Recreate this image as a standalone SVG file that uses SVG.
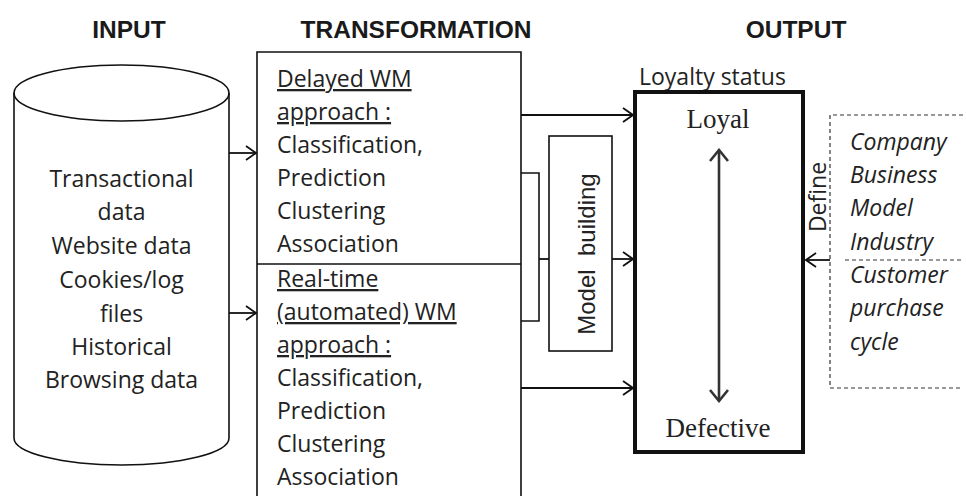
<svg xmlns="http://www.w3.org/2000/svg" width="966" height="496" viewBox="0 0 966 496">
  <style>
    .hdr { font-family: "Liberation Sans", Arial, sans-serif; font-weight: bold; font-size: 24.5px; fill: #1a1a1a; text-anchor: middle; }
    .body { font-family: "Open Sans", "Liberation Sans", sans-serif; font-size: 23px; fill: #222; }
    .mid { text-anchor: middle; }
    .ul { text-decoration: underline; }
    .ital { font-style: italic; }
    .serif { font-family: "Liberation Serif", "Times New Roman", serif; font-size: 27px; fill: #222; text-anchor: middle; }
    .mb { font-family: "Liberation Sans", Arial, sans-serif; font-size: 24px; fill: #222; text-anchor: middle; }
    .line { fill: none; stroke: #111; stroke-width: 1.6; }
    .conn { fill: none; stroke: #111; stroke-width: 1.8; }
    .dash { fill: none; stroke: #333; stroke-width: 1.2; stroke-dasharray: 4 3; }
  </style>
  <defs>
    <marker id="open" viewBox="0 0 12 16" refX="11" refY="8" markerWidth="12" markerHeight="16" markerUnits="userSpaceOnUse" orient="auto">
      <path d="M1,1 L11,8 L1,15" fill="none" stroke="#111" stroke-width="1.8"/>
    </marker>
    <marker id="openBig" viewBox="0 0 14 20" refX="12" refY="10" markerWidth="14" markerHeight="20" markerUnits="userSpaceOnUse" orient="auto-start-reverse">
      <path d="M1,1 L12,10 L1,19" fill="none" stroke="#333" stroke-width="2.6"/>
    </marker>
  </defs>

  <rect width="966" height="496" fill="#fff"/>

  <!-- column headings -->
  <text class="hdr" x="129" y="38">INPUT</text>
  <text class="hdr" x="416" y="38">TRANSFORMATION</text>
  <text class="hdr" x="796" y="38">OUTPUT</text>

  <!-- data store -->
  <g id="input-store">
    <path class="line" d="M14,93 L14,438 A107.5,27 0 0 0 229,438 L229,93"/>
    <ellipse class="line" cx="121.5" cy="93" rx="107.5" ry="28"/>
    <text class="body mid" x="121.5" y="187">Transactional</text>
    <text class="body mid" x="121.5" y="220">data</text>
    <text class="body mid" x="121.5" y="254">Website data</text>
    <text class="body mid" x="121.5" y="288">Cookies/log</text>
    <text class="body mid" x="121.5" y="322">files</text>
    <text class="body mid" x="121.5" y="355">Historical</text>
    <text class="body mid" x="121.5" y="388">Browsing data</text>
  </g>

  <!-- transformation approaches -->
  <g id="transformation">
    <path class="line" d="M257,500 L257,52 L521,52 L521,500"/>
    <line class="line" x1="257" y1="264" x2="521" y2="264"/>
  </g>
  <g id="delayed-wm">
    <text class="body ul" x="277" y="87">Delayed WM</text>
    <text class="body ul" x="277" y="120">approach :</text>
    <text class="body" x="277" y="153">Classification,</text>
    <text class="body" x="277" y="186">Prediction</text>
    <text class="body" x="277" y="219">Clustering</text>
    <text class="body" x="277" y="252">Association</text>
  </g>
  <g id="realtime-wm">
    <text class="body ul" x="277" y="287">Real-time</text>
    <text class="body ul" x="277" y="320">(automated) WM</text>
    <text class="body ul" x="277" y="353">approach :</text>
    <text class="body" x="277" y="386">Classification,</text>
    <text class="body" x="277" y="419">Prediction</text>
    <text class="body" x="277" y="452">Clustering</text>
    <text class="body" x="277" y="485">Association</text>
  </g>

  <!-- model building -->
  <g id="model-building">
    <rect class="line" x="549" y="136" width="63" height="215" stroke-width="1.4"/>
    <text class="mb" transform="translate(595,254) rotate(-90)" xml:space="preserve">Model  building</text>
  </g>

  <!-- loyalty status -->
  <g id="loyalty-status">
    <text class="body" x="639" y="85">Loyalty status</text>
    <rect x="635" y="92" width="168" height="360" fill="none" stroke="#111" stroke-width="4"/>
    <text class="serif" x="718" y="128">Loyal</text>
    <text class="serif" x="718" y="437">Defective</text>
    <line x1="719" y1="150" x2="719" y2="401" stroke="#333" stroke-width="2.6" marker-start="url(#openBig)" marker-end="url(#openBig)"/>
  </g>

  <!-- defining factors -->
  <g id="factors">
    <path class="dash" d="M963,115 L830,115 L830,388 L963,388"/>
    <line class="dash" x1="845" y1="260" x2="963" y2="260"/>
    <text class="body ital" x="850" y="150">Company</text>
    <text class="body ital" x="850" y="183">Business</text>
    <text class="body ital" x="850" y="216">Model</text>
    <text class="body ital" x="850" y="250">Industry</text>
    <text class="body ital" x="850" y="283">Customer</text>
    <text class="body ital" x="850" y="316">purchase</text>
    <text class="body ital" x="850" y="350">cycle</text>
  </g>

  <!-- connectors -->
  <g id="connectors">
    <line class="conn" x1="229" y1="153" x2="256" y2="153" marker-end="url(#open)"/>
    <line class="conn" x1="229" y1="313" x2="256" y2="313" marker-end="url(#open)"/>
    <line class="conn" x1="521" y1="115" x2="633" y2="115" marker-end="url(#open)"/>
    <line class="conn" x1="521" y1="388" x2="633" y2="388" marker-end="url(#open)"/>
    <path class="line" d="M521,173 L539,173 L539,321 L521,321"/>
    <line class="conn" x1="539" y1="259" x2="549" y2="259"/>
    <line class="conn" x1="612" y1="259" x2="633" y2="259" marker-end="url(#open)"/>
    <line class="conn" x1="830" y1="260" x2="806" y2="260" marker-end="url(#open)"/>
    <text class="body mid" transform="translate(826,197) rotate(-90)">Define</text>
  </g>
</svg>
